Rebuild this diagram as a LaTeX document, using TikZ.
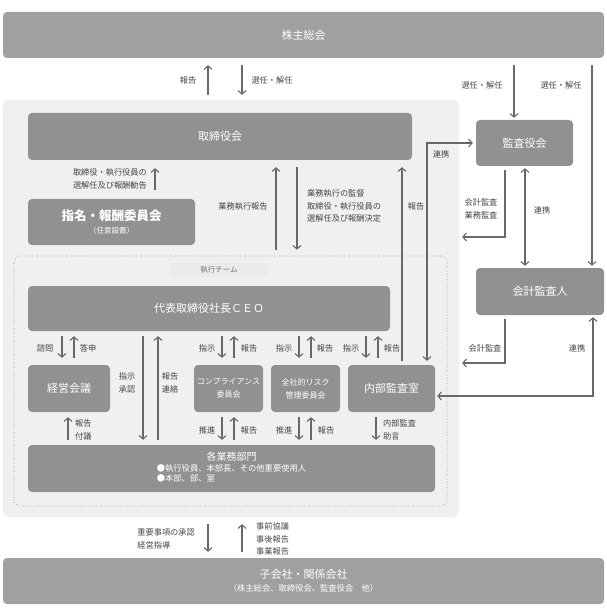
\documentclass[tikz,border=0pt]{standalone}
\usepackage{fontspec}
\setmainfont{Noto Sans CJK JP}
\usetikzlibrary{arrows.meta}
\definecolor{boxgray}{HTML}{919191}
\definecolor{topgray}{HTML}{A0A0A0}
\definecolor{arrgray}{HTML}{686868}
\definecolor{txtgray}{HTML}{454545}
\definecolor{panelgray}{HTML}{F0F0F0}
\begin{document}
\begin{tikzpicture}[x=1pt,y=-1pt,>={Straight Barb[length=3.5pt,width=8pt]},
  box/.style={rounded corners=4pt,fill=boxgray,text=white,inner sep=0pt,align=center,font=\fontsize{11}{13}\selectfont},
  arr/.style={->,draw=arrgray,line width=1.1pt},
  arrtwo/.style={<->,draw=arrgray,line width=1.1pt},
  lbl/.style={text=txtgray,inner sep=0pt,align=left,font=\fontsize{8.2}{12.5}\selectfont}]
\useasboundingbox (0,0) rectangle (606,612);
% boxes
\node[box,fill=topgray,minimum width=601pt,minimum height=46pt] (kabu) at (303.5,35) {株主総会};
\node[fill=panelgray,rounded corners=6pt,minimum width=456pt,minimum height=417pt,inner sep=0pt] (panel) at (231,308.5) {};
\node[box,minimum width=384pt,minimum height=47pt] (tori) at (220,136.5) {取締役会};
\node[box,minimum width=167pt,minimum height=46pt] (shimei) at (111.5,222) {{\fontsize{12.5}{15}\selectfont\bfseries 指名・報酬委員会}\\{\fontsize{7.5}{9}\selectfont （任意設置）}};
\node[draw=black!45,dotted,line width=0.6pt,rounded corners=6pt,minimum width=433pt,minimum height=250pt,inner sep=0pt] (team) at (230.5,381) {};
\node[fill=black!8,text=black!55,minimum width=98pt,minimum height=14pt,inner sep=0pt,font=\fontsize{7.5}{8}\selectfont] (teamlbl) at (219,270) {執行チーム};
\node[box,minimum width=362pt,minimum height=45pt] (ceo) at (209,308.5) {代表取締役社長ＣＥＯ};
\node[box,minimum width=97pt,minimum height=46pt] (kansa) at (524.5,143) {監査役会};
\node[box,minimum width=128pt,minimum height=47pt] (kaikei) at (540,291.5) {会計監査人};
\node[box,minimum width=82pt,minimum height=47pt] (keiei) at (69,388.5) {経営会議};
\node[box,minimum width=69pt,minimum height=47pt,font=\fontsize{8}{13}\selectfont] (comp) at (228.5,388.5) {コンプライアンス\\委員会};
\node[box,minimum width=69pt,minimum height=47pt,font=\fontsize{8}{13}\selectfont] (risk) at (305.5,388.5) {全社的リスク\\管理委員会};
\node[box,minimum width=87pt,minimum height=47pt] (naibu) at (391.5,388.5) {内部監査室};
\node[box,minimum width=407pt,minimum height=47pt,font=\fontsize{10}{12}\selectfont] (gyomu) at (231.5,468.5) {各業務部門\\{\fontsize{8.3}{12}\selectfont\begin{tabular}{@{}l@{}}●執行役員、本部長、その他重要使用人\\[-2pt]●本部、部、室\end{tabular}}};
\node[box,fill=topgray,minimum width=601pt,minimum height=46pt] (ko) at (303.5,581) {子会社・関係会社\\{\fontsize{8.3}{11}\selectfont （株主総会、取締役会、監査役会　他）}};
% top arrows
\draw[arr,shorten <=5pt,shorten >=7pt] (panel.north -| 208,0) -- (kabu.south -| 208,0);
\draw[arr,shorten <=7pt,shorten >=5pt] (kabu.south -| 242,0) -- (panel.north -| 242,0);
\draw[arr,shorten <=7pt,shorten >=2pt] (kabu.south -| 514,0) -- (kansa.north -| 514,0);
\draw[arr,shorten <=7pt,shorten >=2pt] (kabu.south -| 592,0) -- (kaikei.north -| 592,0);
\draw[arr,shorten <=9pt,shorten >=8pt] (shimei.north -| 155,0) -- (tori.south -| 155,0);
\draw[arr,shorten <=6pt,shorten >=7pt] (team.north -| 276,0) -- (tori.south -| 276,0);
\draw[arr,shorten <=7pt,shorten >=6pt] (tori.south -| 297,0) -- (team.north -| 297,0);
\draw[arr,shorten <=4pt,shorten >=7pt] (naibu.north -| 402,0) -- (tori.south -| 402,0);
% audit links
\draw[arrtwo,shorten <=4pt,shorten >=3pt] (naibu.north -| 427,0) |- (kansa.west);
\draw[arr,shorten <=4pt,shorten >=3pt] (kansa.south -| 505,0) |- (panel.east |- 0,237);
\draw[arrtwo,shorten <=2pt,shorten >=2pt] (kansa.south -| 525,0) -- (kaikei.north -| 525,0);
\draw[arr,shorten <=4pt,shorten >=3pt] (kaikei.south -| 505,0) |- (panel.east |- 0,363);
\draw[arrtwo,shorten <=2pt,shorten >=2pt] (kaikei.south -| 593,0) |- (naibu.east |- 0,396);
% execution team
\draw[arr,shorten <=5pt,shorten >=7pt] (ceo.south -| 62,0) -- (keiei.north -| 62,0);
\draw[arr,shorten <=7pt,shorten >=5pt] (keiei.north -| 74,0) -- (ceo.south -| 74,0);
\draw[arr,shorten <=5pt,shorten >=5pt] (ceo.south -| 143,0) -- (gyomu.north -| 143,0);
\draw[arr,shorten <=5pt,shorten >=5pt] (gyomu.north -| 158,0) -- (ceo.south -| 158,0);
\foreach \d/\u in {222/234,299/311,366/378}{
  \draw[arr,shorten <=5pt,shorten >=7pt] (ceo.south -| \d,0) -- (naibu.north -| \d,0);
  \draw[arr,shorten <=7pt,shorten >=5pt] (naibu.north -| \u,0) -- (ceo.south -| \u,0);
}
\draw[arr,shorten <=5pt,shorten >=5pt] (gyomu.north -| 68,0) -- (keiei.south -| 68,0);
\foreach \d/\u in {222/234,299/311}{
  \draw[arr,shorten <=5pt,shorten >=5pt] (comp.south -| \d,0) -- (gyomu.north -| \d,0);
  \draw[arr,shorten <=5pt,shorten >=5pt] (gyomu.north -| \u,0) -- (comp.south -| \u,0);
}
\draw[arr,shorten <=5pt,shorten >=5pt] (naibu.south -| 376,0) -- (gyomu.north -| 376,0);
% subsidiaries
\draw[arr,shorten <=7pt,shorten >=6pt] (panel.south -| 208,0) -- (ko.north -| 208,0);
\draw[arr,shorten <=6pt,shorten >=7pt] (ko.north -| 242,0) -- (panel.south -| 242,0);
% labels
\node[lbl] (lkabu1) at (188,80) {報告};
\node[lbl] (lkabu2) at (272,80) {選任・解任};
\node[lbl] (lkabu3) at (482,85) {選任・解任};
\node[lbl] (lkabu4) at (561,85) {選任・解任};
\node[lbl,anchor=east] (lshimei) at (147,179) {取締役・執行役員の\\選解任及び報酬勧告};
\node[lbl] (ltori1) at (243,206) {業務執行報告};
\node[lbl,anchor=west] (ltori2) at (307,206) {業務執行の監督\\取締役・執行役員の\\選解任及び報酬決定};
\node[lbl] (ltori3) at (416,206) {報告};
\node[lbl] (lkansa1) at (441,154) {連携};
\node[lbl] (lkansa2) at (481,209) {会計監査\\業務監査};
\node[lbl] (lkansa3) at (542,210) {連携};
\node[lbl] (lkaikei1) at (485,348) {会計監査};
\node[lbl] (lkaikei2) at (577,348) {連携};
\node[lbl] (lceo1) at (45,348) {諮問};
\node[lbl] (lceo2) at (88,348) {答申};
\node[lbl] (lceo3) at (207,348) {指示};
\node[lbl] (lceo4) at (249,348) {報告};
\node[lbl] (lceo5) at (284,348) {指示};
\node[lbl] (lceo6) at (325,348) {報告};
\node[lbl] (lceo7) at (351,348) {指示};
\node[lbl] (lceo8) at (392,348) {報告};
\node[lbl] (lceo9) at (127,383) {指示\\承認};
\node[lbl] (lceo10) at (170,383) {報告\\連絡};
\node[lbl,anchor=west] (lgyomu1) at (75,430) {報告\\付議};
\node[lbl] (lgyomu2) at (207,430) {推進};
\node[lbl] (lgyomu3) at (249,430) {報告};
\node[lbl] (lgyomu4) at (284,430) {推進};
\node[lbl] (lgyomu5) at (326,430) {報告};
\node[lbl,anchor=west] (lgyomu6) at (383,430) {内部監査\\助言};
\node[lbl,anchor=east] (lko1) at (195,539) {重要事項の承認\\経営指導};
\node[lbl,anchor=west] (lko2) at (256,539) {事前協議\\事後報告\\事業報告};
\end{tikzpicture}
\end{document}
